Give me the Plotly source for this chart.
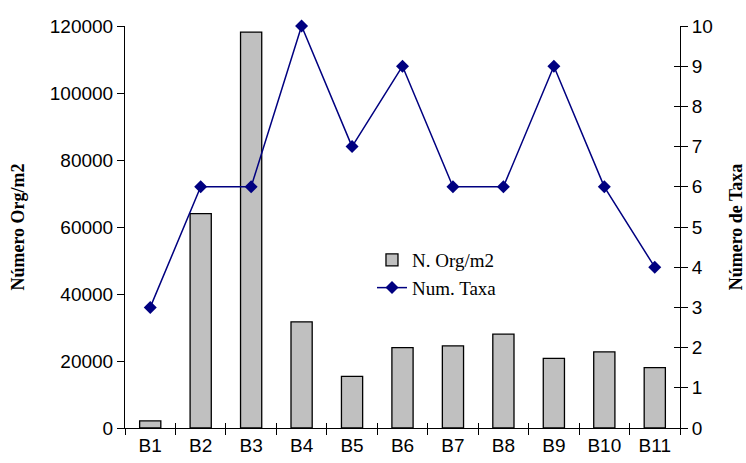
import plotly.graph_objects as go

categories = ["B1", "B2", "B3", "B4", "B5", "B6", "B7", "B8", "B9", "B10", "B11"]
org_m2 = [2100, 64000, 118200, 31700, 15400, 24000, 24500, 28000, 20800, 22700, 18000]
num_taxa = [3, 6, 6, 10, 7, 9, 6, 6, 9, 6, 4]
left_ticks = [0, 20000, 40000, 60000, 80000, 100000, 120000]
right_ticks = list(range(0, 11))

n = len(categories)
tick_font = dict(family="Liberation Sans, Arial", size=19, color="black")
title_font = dict(family="Liberation Serif, Times New Roman", size=18, color="black")

fig = go.Figure()
fig.add_trace(go.Bar(
    x=categories, y=org_m2, name="N. Org/m2",
    marker=dict(color="#C0C0C0", line=dict(color="black", width=1.3)),
    width=0.42, yaxis="y",
))
fig.add_trace(go.Scatter(
    x=categories, y=num_taxa, name="Num. Taxa", mode="lines+markers",
    line=dict(color="#000080", width=1.5),
    marker=dict(symbol="diamond", size=10, color="#000080"),
    yaxis="y2", cliponaxis=False,
))
# invisible helper trace so the overlay tick axes are drawn
fig.add_trace(go.Scatter(
    x=list(range(n)), y=num_taxa, xaxis="x2", yaxis="y3", mode="markers",
    marker=dict(opacity=0), showlegend=False, hoverinfo="skip",
))

fig.update_layout(
    width=746, height=463,
    margin=dict(l=125, r=66, t=26, b=35, autoexpand=False),
    paper_bgcolor="white", plot_bgcolor="white",
    showlegend=True,
    legend=dict(
        x=0.445, y=0.465, xanchor="left", yanchor="top",
        font=dict(family="Liberation Serif, Times New Roman", size=19, color="black"),
        bgcolor="rgba(0,0,0,0)", tracegroupgap=4,
    ),
    xaxis=dict(
        type="category", categoryorder="array", categoryarray=categories,
        range=[-0.5, n - 0.5], tickson="boundaries", automargin=False,
        ticks="outside", ticklen=6, tickcolor="black", tickwidth=1,
        showline=True, linecolor="black", linewidth=1,
        showgrid=False, zeroline=False, tickfont=tick_font,
    ),
    xaxis2=dict(
        overlaying="x", anchor="y", range=[-0.5, n - 0.5], automargin=False,
        tick0=-0.5, dtick=1, ticks="inside", ticklen=5, tickcolor="black",
        showticklabels=False, showline=False, showgrid=False, zeroline=False,
    ),
    yaxis=dict(
        range=[0, 120000], tickvals=left_ticks, tickformat="d", automargin=False,
        ticks="outside", ticklen=7, tickcolor="black",
        showline=True, linecolor="black", linewidth=1,
        showgrid=False, zeroline=False, tickfont=tick_font,
        title=dict(text="<b>Número Org/m2</b>", font=title_font, standoff=20),
    ),
    yaxis2=dict(
        range=[0, 10], tickvals=right_ticks, overlaying="y", side="right",
        ticks="outside", ticklen=7, tickcolor="black", automargin=False,
        showline=True, linecolor="black", linewidth=1,
        showgrid=False, zeroline=False, tickfont=tick_font,
        title=dict(text="<b>Número de Taxa</b>", font=title_font, standoff=17),
    ),
    yaxis3=dict(
        range=[0, 10], tickvals=right_ticks, overlaying="y", side="right",
        anchor="x", ticks="inside", ticklen=6, tickcolor="black", automargin=False,
        showticklabels=False, showline=False, showgrid=False, zeroline=False,
    ),
)

fig.write_html(
    "out.html",
    config={"displayModeBar": False},
    post_script="document.body.style.margin='0';document.body.style.overflow='hidden';",
)
